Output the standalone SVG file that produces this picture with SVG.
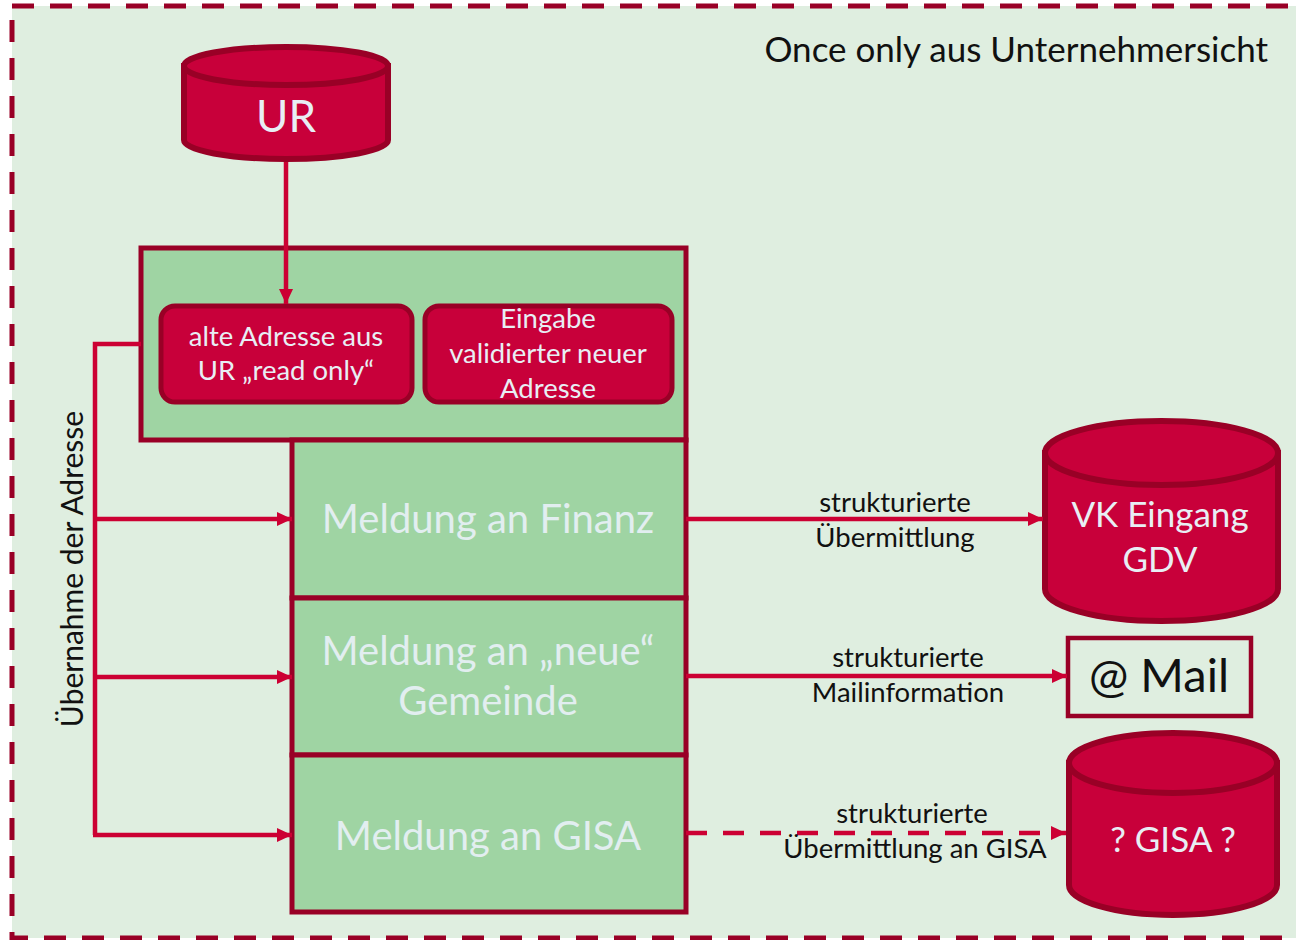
<svg xmlns="http://www.w3.org/2000/svg" width="1296" height="940" viewBox="0 0 1296 940">
<defs>
<style>
text{font-family:Lato,"Open Sans","Noto Sans",sans-serif;}
.cyl{fill:#c8003a;stroke:#990026;stroke-width:6;}
.inner{fill:#c8003a;stroke:#990026;stroke-width:5;}
.green{fill:#9fd4a3;stroke:#990026;stroke-width:5;}
.con{fill:none;stroke:#cc0033;stroke-width:4.5;}
.wt{fill:#e8eef4;text-anchor:middle;}
.lt{fill:#e2eef0;text-anchor:middle;font-size:40px;}
.lbl{fill:#111;text-anchor:middle;font-size:27.5px;}
</style>
<marker id="ah" markerUnits="userSpaceOnUse" markerWidth="16" markerHeight="16" viewBox="0 0 16 16" refX="15" refY="8" orient="auto">
<path d="M0,1 L15,8 L0,15 Z" fill="#cc0033"/>
</marker>
</defs>
<rect x="0" y="0" width="1296" height="940" fill="#ffffff"/>
<rect id="frame" x="12" y="6" width="1290" height="932" fill="#dfeee0" stroke="#990026" stroke-width="5" stroke-dasharray="22 16"/>
<text x="1268" y="62" font-size="35" fill="#111" text-anchor="end">Once only aus Unternehmersicht</text>

<g id="ur">
<path class="cyl" d="M184,66 L184,140 A102,19 0 0 0 388,140 L388,66 Z"/>
<ellipse class="cyl" cx="286" cy="66" rx="102" ry="19"/>
<text class="wt" x="286" y="132" font-size="44">UR</text>
</g>

<g id="container">
<rect class="green" x="141" y="248" width="545" height="192"/>
</g>
<g id="alte">
<rect class="inner" x="161" y="306" width="251" height="96" rx="14"/>
<text class="wt" x="286" y="346" font-size="27.5">alte Adresse aus</text>
<text class="wt" x="286" y="380" font-size="27.5">UR „read only“</text>
</g>
<g id="eingabe">
<rect class="inner" x="425" y="306" width="247" height="96" rx="14"/>
<text class="wt" x="548" y="328" font-size="27.5">Eingabe</text>
<text class="wt" x="548" y="363" font-size="27.5">validierter neuer</text>
<text class="wt" x="548" y="398" font-size="27.5">Adresse</text>
</g>
<g id="finanz">
<rect class="green" x="292" y="440" width="394" height="158"/>
<text class="lt" x="488" y="533">Meldung an Finanz</text>
</g>
<g id="gemeinde">
<rect class="green" x="292" y="598" width="394" height="157"/>
<text class="lt" x="488" y="665">Meldung an „neue“</text>
<text class="lt" x="488" y="715">Gemeinde</text>
</g>
<g id="gisa-meldung">
<rect class="green" x="292" y="755" width="394" height="157"/>
<text class="lt" x="488" y="850">Meldung an GISA</text>
</g>

<g id="vk">
<path class="cyl" d="M1045,453 L1045,589 A116.5,32 0 0 0 1278,589 L1278,453 Z"/>
<ellipse class="cyl" cx="1161.5" cy="453" rx="116.5" ry="32"/>
<text class="wt" x="1160" y="527" font-size="35">VK Eingang</text>
<text class="wt" x="1160" y="572" font-size="35">GDV</text>
</g>
<g id="mail">
<rect x="1068" y="638" width="183" height="78" fill="#dfeee0" stroke="#990026" stroke-width="4.5"/>
<text x="1159" y="692" font-size="47" fill="#111" text-anchor="middle">@ Mail</text>
</g>
<g id="gisa">
<path class="cyl" d="M1069,763 L1069,885 A104,30 0 0 0 1277,885 L1277,763 Z"/>
<ellipse class="cyl" cx="1173" cy="763" rx="104" ry="30"/>
<text class="wt" x="1173" y="852" font-size="35">? GISA ?</text>
</g>

<g id="connectors">
<line class="con" x1="286" y1="162" x2="286" y2="304" marker-end="url(#ah)"/>
<polyline class="con" points="141,344 95,344 95,835"/>
<line class="con" x1="95" y1="519" x2="292" y2="519" marker-end="url(#ah)"/>
<line class="con" x1="95" y1="677" x2="292" y2="677" marker-end="url(#ah)"/>
<line class="con" x1="93" y1="835" x2="292" y2="835" marker-end="url(#ah)"/>
<line class="con" x1="686" y1="519" x2="1043" y2="519" marker-end="url(#ah)"/>
<line class="con" x1="686" y1="676" x2="1067" y2="676" marker-end="url(#ah)"/>
<line class="con" x1="686" y1="833" x2="1066" y2="833" stroke-width="5" stroke-dasharray="21 16" marker-end="url(#ah)"/>
<text class="lbl" x="895" y="512">strukturierte</text>
<text class="lbl" x="895" y="547">Übermittlung</text>
<text class="lbl" x="908" y="667">strukturierte</text>
<text class="lbl" x="908" y="702">Mailinformation</text>
<text class="lbl" x="912" y="823">strukturierte</text>
<text class="lbl" x="915" y="858">Übermittlung an GISA</text>
<text x="83" y="569" font-size="30" fill="#111" text-anchor="middle" transform="rotate(-90 83 569)">Übernahme der Adresse</text>
</g>
</svg>
